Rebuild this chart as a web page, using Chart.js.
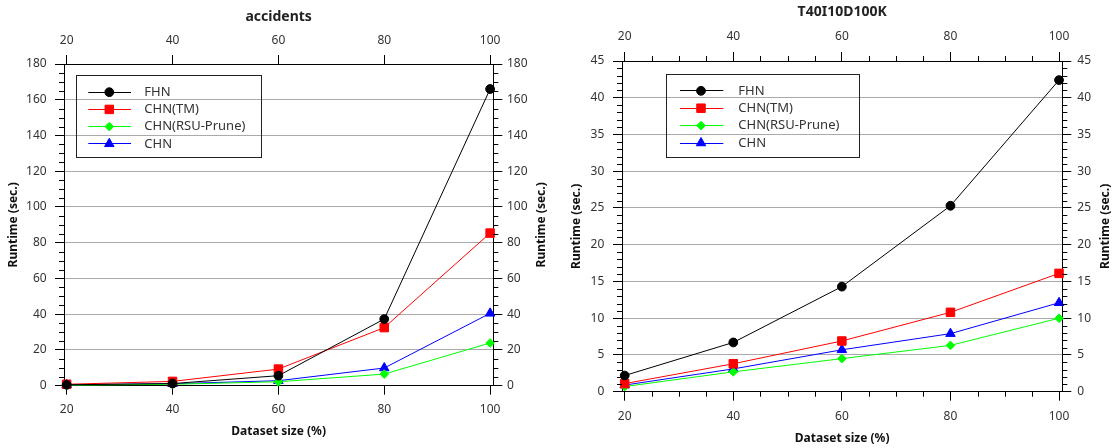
<!DOCTYPE html>
<html>
<head>
<meta charset="utf-8">
<script src="https://cdn.jsdelivr.net/npm/chart.js@4.4.1/dist/chart.umd.min.js"></script>
<style>
  body { margin: 0; background: #fff; }
  #wrap { position: relative; width: 1112px; height: 448px; }
  canvas { position: absolute; top: 0; }
</style>
</head>
<body>
<div id="wrap">
  <canvas id="accidents" width="556" height="448" style="left:0"></canvas>
  <canvas id="t40" width="556" height="448" style="left:556px"></canvas>
</div>
<script>
// values
const xValues = [20, 40, 60, 80, 100];
const seriesNames = ["FHN", "CHN(TM)", "CHN(RSU-Prune)", "CHN"];

// accidents
const accFHN = [0.5, 1.2, 5.6, 37.3, 166];
const accTM = [0.8, 2.4, 9.3, 32.5, 85.4];
const accRSU = [0.3, 0.8, 2.2, 6.5, 23.9];
const accCHN = [0.5, 1.1, 2.8, 9.9, 40.5];
const accYTicks = [0, 20, 40, 60, 80, 100, 120, 140, 160, 180];

// T40I10D100K
const tFHN = [2.2, 6.7, 14.3, 25.3, 42.4];
const tTM = [1.1, 3.8, 6.9, 10.8, 16.1];
const tRSU = [0.7, 2.7, 4.5, 6.3, 10.0];
const tCHN = [0.9, 3.1, 5.7, 7.9, 12.1];
const tYTicks = [0, 5, 10, 15, 20, 25, 30, 35, 40, 45];

const colors = ["#000000", "#ff0000", "#00ff00", "#0000ff"];
const markers = ["circle", "rect", "rectRot", "triangle"];
const markerSize = [4.4, 6, 4.3, 5.5];

Chart.defaults.font.family = "'Noto Sans', sans-serif";
Chart.defaults.color = "#333";

// title, right axis title, minor ticks and the boxed legend
const extras = {
  id: "extras",
  afterDraw(chart, args, o) {
    const ctx = chart.ctx;
    const ca = chart.chartArea;
    ctx.save();

    // minor ticks
    ctx.strokeStyle = "#000";
    ctx.lineWidth = 1;
    ctx.beginPath();
    const ys = chart.scales.y;
    for (let v = 0; v <= o.yMax; v += o.minorY) {
      if (o.yTicks.includes(v)) continue;
      const p = Math.round(ys.getPixelForValue(v)) + 0.5;
      ctx.moveTo(ca.left - 5, p); ctx.lineTo(ca.left, p);
      ctx.moveTo(ca.right, p); ctx.lineTo(ca.right + 5, p);
    }
    if (o.minorX) {
      const xs = chart.scales.x;
      for (let v = xValues[0]; v <= xValues[xValues.length - 1]; v += o.minorX) {
        if (xValues.includes(v)) continue;
        const p = Math.round(xs.getPixelForValue(v)) + 0.5;
        ctx.moveTo(p, ca.bottom); ctx.lineTo(p, ca.bottom + 5);
        ctx.moveTo(p, ca.top - 5); ctx.lineTo(p, ca.top);
      }
    }
    ctx.stroke();

    // chart title
    ctx.fillStyle = "#222";
    ctx.font = "bold 14px 'Noto Sans'";
    ctx.textAlign = "center";
    ctx.textBaseline = "middle";
    ctx.fillText(o.title, (ca.left + ca.right) / 2, o.titleY);

    // right axis title (same direction as the left one)
    ctx.font = "bold 12px 'Noto Sans'";
    ctx.fillStyle = "#111";
    ctx.save();
    ctx.translate(o.rightTitleX, (ca.top + ca.bottom) / 2);
    ctx.rotate(-Math.PI / 2);
    ctx.fillText("Runtime (sec.)", 0, 0);
    ctx.restore();

    // legend
    const L = o.legend;
    const bx = ca.left + L.dx, by = ca.top + L.dy;
    ctx.strokeStyle = "#222";
    ctx.strokeRect(Math.round(bx) + 0.5, Math.round(by) + 0.5, L.w, L.h);
    ctx.font = "13px 'Noto Sans'";
    ctx.textAlign = "left";
    chart.data.datasets.forEach((ds, i) => {
      const y = by + L.first + i * L.step;
      ctx.strokeStyle = ds.borderColor;
      ctx.beginPath();
      ctx.moveTo(bx + L.line1, Math.round(y) + 0.5);
      ctx.lineTo(bx + L.line2, Math.round(y) + 0.5);
      ctx.stroke();
      ctx.fillStyle = ds.backgroundColor;
      Chart.helpers.drawPoint(ctx, {
        pointStyle: ds.pointStyle, radius: ds.pointRadius, rotation: 0, borderWidth: 1
      }, bx + L.mark, y + 0.5);
      ctx.fillStyle = "#333";
      ctx.fillText(ds.label, bx + L.text, y + 0.5);
    });
    ctx.restore();
  }
};

function makeChart(id, series, yTicks, o) {
  const yMax = yTicks[yTicks.length - 1];
  const datasets = series.map((vals, i) => ({
    label: seriesNames[i],
    data: xValues.map((x, j) => ({ x: x, y: vals[j] })),
    borderColor: colors[i],
    backgroundColor: colors[i],
    borderWidth: 1,
    pointStyle: markers[i],
    pointRadius: markerSize[i],
    pointBorderWidth: 1,
    clip: false,
    xAxisID: "x",
    yAxisID: "y"
  }));

  const xAxis = (pos, height, pad, title) => ({
    type: "linear",
    position: pos,
    min: 19.5,
    max: 100.6,
    afterBuildTicks: s => { s.ticks = xValues.map(v => ({ value: v })); },
    afterFit: s => { s.height = height; },
    grid: { drawOnChartArea: false, tickLength: 9, tickColor: "#000" },
    border: { color: "#000" },
    ticks: { padding: pad, font: { size: 12 }, color: "#333", maxRotation: 0 },
    title: title ? {
      display: true, text: "Dataset size (%)", color: "#111",
      font: { size: 12, weight: "bold" }, padding: { top: 0, bottom: o.xTitlePad }
    } : { display: false }
  });
  const yAxis = (pos, width, pad, title) => ({
    type: "linear",
    position: pos,
    min: 0,
    max: yMax,
    afterBuildTicks: s => { s.ticks = yTicks.map(v => ({ value: v })); },
    afterFit: s => { s.width = width; },
    grid: { drawOnChartArea: pos === "left", color: "#aaaaaa", tickLength: 9, tickColor: "#000" },
    border: { color: "#000" },
    ticks: { padding: pad, font: { size: 12 }, color: "#333" },
    title: title ? {
      display: true, text: "Runtime (sec.)", color: "#111",
      font: { size: 12, weight: "bold" }, padding: { top: o.yTitlePad, bottom: 0 }
    } : { display: false }
  });

  return new Chart(document.getElementById(id), {
    type: "line",
    data: { datasets: datasets },
    options: {
      responsive: false,
      animation: false,
      events: [],
      devicePixelRatio: 1,
      layout: { padding: { top: o.padTop, left: 0, right: 0, bottom: 0 } },
      scales: {
        x: xAxis("bottom", o.bottomH, o.bottomPad, true),
        x2: xAxis("top", o.topH, o.topPad, false),
        y: yAxis("left", o.leftW, o.leftPad, true),
        y2: yAxis("right", o.rightW, o.rightPad, false)
      },
      plugins: {
        legend: { display: false },
        tooltip: { enabled: false },
        extras: {
          title: o.title, titleY: o.titleY, rightTitleX: o.rightTitleX,
          yTicks: yTicks, yMax: yMax, minorY: o.minorY, minorX: o.minorX,
          legend: o.legend
        }
      }
    },
    plugins: [extras]
  });
}

makeChart("accidents", [accFHN, accTM, accRSU, accCHN], accYTicks, {
  title: "accidents", titleY: 16.7, rightTitleX: 542,
  padTop: 24.8, topH: 39.2, bottomH: 62.3, leftW: 64, rightW: 62.7,
  topPad: 7, bottomPad: 8, leftPad: 8.3, rightPad: 4.7,
  xTitlePad: 9.5, yTitlePad: 6.7,
  minorY: 5, minorX: 0,
  legend: { dx: 11.7, dy: 11.3, w: 185, h: 82, first: 16.4, step: 17.2,
            line1: 12.6, line2: 55.3, mark: 33.6, text: 68.6 }
});

makeChart("t40", [tFHN, tTM, tRSU, tCHN], tYTicks, {
  title: "T40I10D100K", titleY: 12.3, rightTitleX: 550,
  padTop: 20.8, topH: 40.2, bottomH: 56.3, leftW: 66, rightW: 49.7,
  topPad: 8.4, bottomPad: 8.8, leftPad: 8.7, rightPad: 6,
  xTitlePad: 2.5, yTitlePad: 13.5,
  minorY: 1, minorX: 5,
  legend: { dx: 44.3, dy: 13.3, w: 193, h: 83, first: 16, step: 17.4,
            line1: 13.7, line2: 57, mark: 34.7, text: 72 }
});
</script>
</body>
</html>
